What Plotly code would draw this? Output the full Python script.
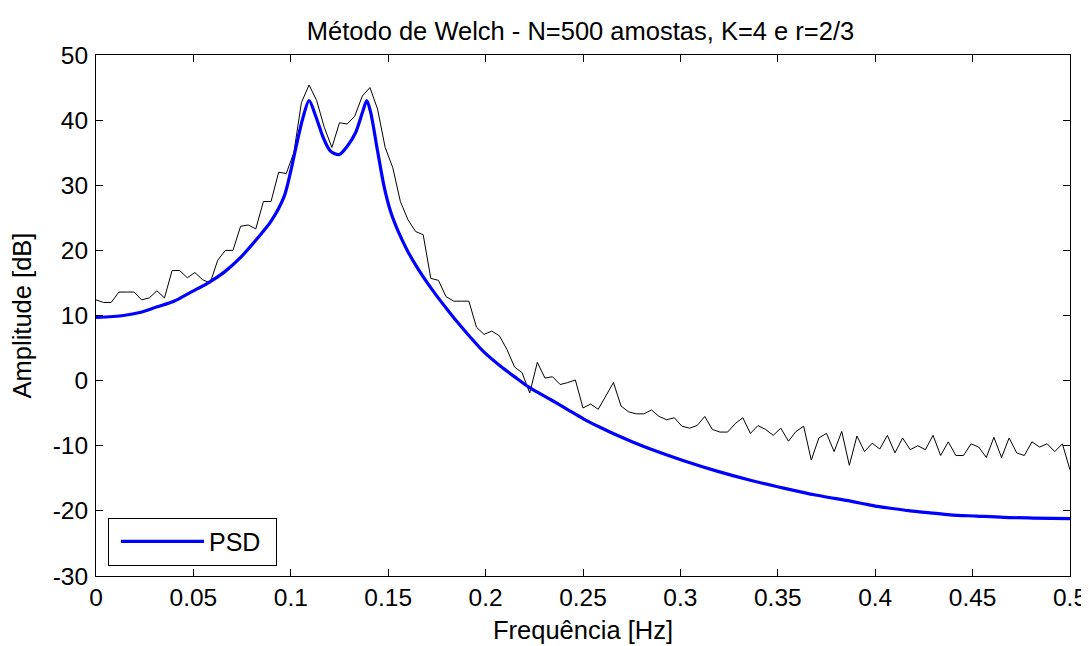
import plotly.graph_objects as go

# Welch estimate (thin black line), 129 bins from 0 to 0.5 Hz
welch_db = [12.4, 12.0, 12.0, 13.6, 13.6, 13.6, 12.4, 12.7, 13.8, 12.7,
            16.9, 16.9, 15.8, 16.6, 15.5, 15.0, 18.5, 20.0, 20.0, 23.7,
            23.9, 23.3, 27.5, 27.5, 32.0, 31.8, 35.0, 42.7, 45.4, 43.0,
            38.9, 35.8, 39.6, 39.4, 40.6, 43.7, 45.0, 41.7, 35.8, 32.7,
            27.5, 24.7, 22.9, 22.4, 15.7, 15.4, 12.9, 12.2, 12.2, 12.2,
            8.2, 7.1, 7.6, 6.9, 4.8, 2.1, 1.2, -1.9, 2.8, 0.4,
            0.6, -0.6, -0.3, 0.1, -4.2, -3.6, -4.4, -2.4, -0.3, -3.9,
            -4.8, -5.1, -5.1, -4.5, -5.5, -6.0, -5.7, -7.0, -7.3, -6.9,
            -5.5, -7.5, -7.9, -7.9, -6.6, -5.7, -8.1, -6.9, -7.5, -8.4,
            -7.3, -9.3, -7.8, -7.0, -12.2, -8.8, -8.1, -10.9, -7.8, -13.0,
            -8.5, -10.9, -9.6, -10.5, -8.4, -11.1, -8.8, -10.6, -10.0, -10.6,
            -8.4, -11.5, -9.4, -11.5, -11.5, -9.7, -10.2, -11.8, -8.7, -11.8,
            -8.8, -11.1, -11.5, -9.4, -10.2, -9.7, -10.9, -9.7, -13.7]
welch_freq = [i / 256 for i in range(len(welch_db))]

# Theoretical PSD (thick blue line)
psd_freq = [0.0, 0.0141, 0.023, 0.031, 0.040, 0.0487, 0.057, 0.066, 0.0745, 0.083,
            0.0897, 0.0966, 0.100, 0.1017, 0.106, 0.1094, 0.1128, 0.1171, 0.1205, 0.1248,
            0.129, 0.1333, 0.1368, 0.139, 0.141, 0.1444, 0.1479, 0.1513, 0.1556, 0.1598,
            0.165, 0.1701, 0.1752, 0.1804, 0.1855, 0.1915, 0.1991, 0.2077, 0.2162, 0.2222,
            0.2333, 0.2419, 0.2504, 0.259, 0.2675, 0.2761, 0.2846, 0.3017, 0.3188, 0.3359,
            0.353, 0.3701, 0.3872, 0.394, 0.4009, 0.4077, 0.418, 0.4282, 0.4385, 0.4521,
            0.4658, 0.481, 0.5]
psd_db = [9.7, 10.0, 10.5, 11.3, 12.2, 13.6, 14.9, 16.7, 19.0, 21.9,
          24.4, 28.3, 32.2, 34.5, 40.1, 43.0, 40.6, 37.0, 35.2, 34.7,
          36.0, 38.1, 41.2, 43.0, 41.2, 35.5, 29.8, 25.9, 22.6, 20.0,
          17.3, 15.0, 12.9, 10.9, 9.0, 6.9, 4.4, 2.2, 0.3, -1.0,
          -2.9, -4.4, -5.9, -7.2, -8.4, -9.5, -10.5, -12.3, -13.9, -15.3,
          -16.5, -17.6, -18.5, -18.9, -19.3, -19.6, -20.0, -20.3, -20.6, -20.8,
          -21.0, -21.1, -21.2]

x_ticks = [0, 0.05, 0.1, 0.15, 0.2, 0.25, 0.3, 0.35, 0.4, 0.45, 0.5]
x_labels = ["0", "0.05", "0.1", "0.15", "0.2", "0.25", "0.3", "0.35", "0.4", "0.45", "0.5"]
y_ticks = [-30, -20, -10, 0, 10, 20, 30, 40, 50]
y_labels = ["-30", "-20", "-10", "0", "10", "20", "30", "40", "50"]

FONT = "Arial, Liberation Sans, sans-serif"
BLACK = "black"

fig = go.Figure()
fig.add_trace(go.Scatter(x=welch_freq, y=welch_db, mode="lines",
                         line=dict(color=BLACK, width=1), showlegend=False,
                         name="Welch"))
fig.add_trace(go.Scatter(x=psd_freq, y=psd_db, mode="lines",
                         line=dict(color="#0000ff", width=3.2, shape="spline", smoothing=0.8),
                         name="PSD"))

axis_common = dict(showgrid=False, zeroline=False, showline=True, linecolor=BLACK,
                   linewidth=1, mirror="ticks", ticks="inside", ticklen=7,
                   tickcolor=BLACK, automargin=False, ticklabeloverflow="allow",
                   tickfont=dict(family=FONT, size=24.5, color=BLACK))

fig.update_layout(
    width=1081, height=638,
    paper_bgcolor="white", plot_bgcolor="white",
    margin=dict(l=88, r=19, t=47, b=70, autoexpand=False),
    title=dict(text="Método de Welch - N=500 amostas, K=4 e r=2/3",
               x=572.5 / 1081, xanchor="center", xref="container",
               y=1 - 23.5 / 638, yanchor="middle", yref="container",
               font=dict(family=FONT, size=25.5, color=BLACK)),
    xaxis=dict(range=[0, 0.5], tickvals=x_ticks, ticktext=x_labels,
               title=dict(text="Frequência [Hz]",
                          font=dict(family=FONT, size=25.5, color=BLACK), standoff=10),
               **axis_common),
    yaxis=dict(range=[-30, 50], tickvals=y_ticks, ticktext=y_labels,
               ticklabelstandoff=2,
               title=dict(text="Amplitude [dB]",
                          font=dict(family=FONT, size=25.5, color=BLACK), standoff=14),
               **axis_common),
    legend=dict(x=0.0123, y=0.0198, xanchor="left", yanchor="bottom",
                orientation="h", indentation=7,
                bgcolor="white", bordercolor=BLACK, borderwidth=1,
                font=dict(family=FONT, size=25, color=BLACK),
                itemwidth=83, entrywidth=62, entrywidthmode="pixels"),
)

fig.write_html("out.html")
